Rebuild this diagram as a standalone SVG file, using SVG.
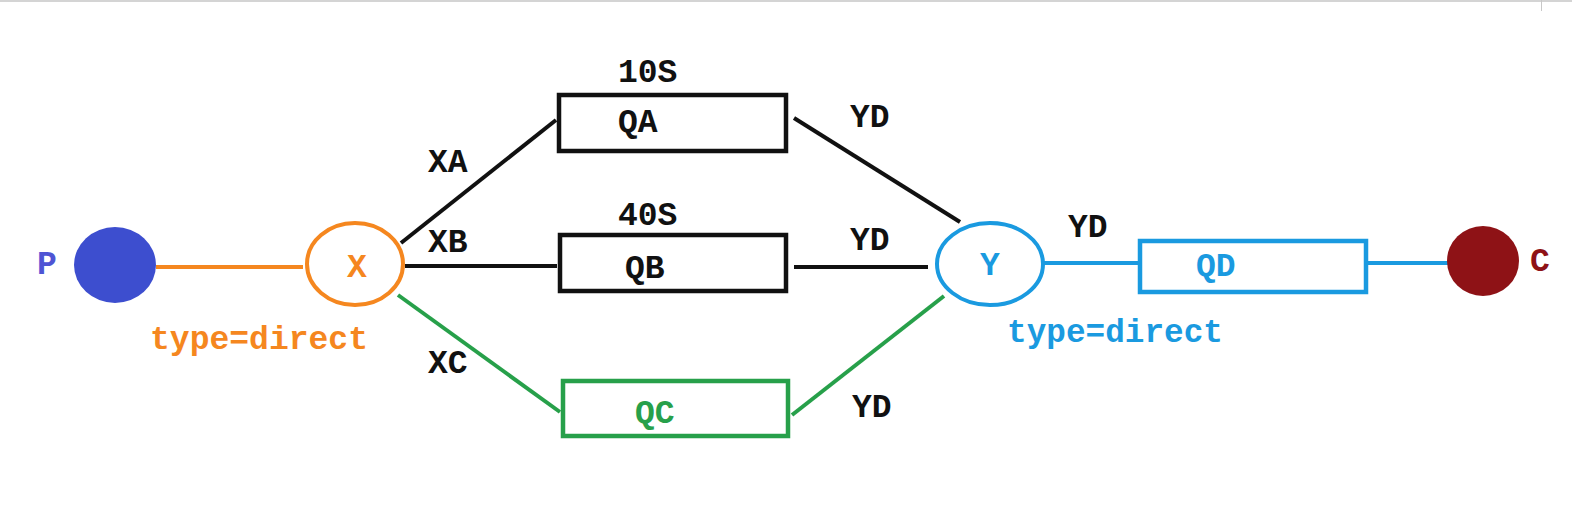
<svg xmlns="http://www.w3.org/2000/svg" width="1572" height="506" viewBox="0 0 1572 506">
<style>
text{font-family:"Liberation Mono","Courier New",monospace;font-weight:bold;font-size:33px}
.k{fill:#111}
.o{fill:#f5871f}
.b{fill:#1a9ae0}
.g{fill:#27a04a}
.ln{fill:none;stroke-width:4}
.box{fill:#fff;stroke-width:4.5}
</style>
<rect x="0" y="0" width="1572" height="2" fill="#d4d4d4"/>
<line x1="1541.5" y1="0" x2="1541.5" y2="11" stroke="#c8c8c8" stroke-width="1"/>
<g id="connectors">
<line class="ln" x1="156" y1="267" x2="303" y2="267" stroke="#f5871f"/>
<line class="ln" x1="401" y1="243" x2="556" y2="120" stroke="#111"/>
<line class="ln" x1="405" y1="266" x2="557" y2="266" stroke="#111"/>
<line class="ln" x1="398" y1="295" x2="560" y2="412" stroke="#27a04a"/>
<line class="ln" x1="794" y1="118" x2="960" y2="222" stroke="#111"/>
<line class="ln" x1="794" y1="267" x2="928" y2="267" stroke="#111"/>
<line class="ln" x1="792" y1="415" x2="944" y2="296" stroke="#27a04a"/>
<line class="ln" x1="1043" y1="263" x2="1140" y2="263" stroke="#1a9ae0"/>
<line class="ln" x1="1368" y1="263" x2="1449" y2="263" stroke="#1a9ae0"/>
<text class="k" x="428" y="172">XA</text>
<text class="k" x="428" y="252">XB</text>
<text class="k" x="428" y="373">XC</text>
<text class="k" x="850" y="127">YD</text>
<text class="k" x="850" y="250">YD</text>
<text class="k" x="852" y="417">YD</text>
<text class="k" x="1068" y="237">YD</text>
</g>
<g id="P">
<ellipse cx="115" cy="265" rx="41" ry="38" fill="#3d4ecf"/>
<text x="37" y="274" fill="#4e54d4" font-size="30">P</text>
</g>
<g id="X">
<ellipse cx="355" cy="264" rx="48" ry="41" fill="#fff" stroke="#f5871f" stroke-width="4"/>
<text class="o" x="357" y="277" text-anchor="middle" font-size="30">X</text>
<text class="o" x="150" y="349" textLength="218" lengthAdjust="spacingAndGlyphs">type=direct</text>
</g>
<g id="QA">
<text class="k" x="618" y="82">10S</text>
<rect class="box" x="559" y="95" width="227" height="56" stroke="#111"/>
<text class="k" x="618" y="132">QA</text>
</g>
<g id="QB">
<text class="k" x="618" y="225">40S</text>
<rect class="box" x="560" y="235" width="226" height="56" stroke="#111"/>
<text class="k" x="625" y="278">QB</text>
</g>
<g id="QC">
<rect class="box" x="563" y="381" width="225" height="55" stroke="#27a04a"/>
<text class="g" x="635" y="423" font-weight="normal">QC</text>
</g>
<g id="Y">
<ellipse cx="990" cy="264" rx="53" ry="41" fill="#fff" stroke="#1a9ae0" stroke-width="4"/>
<text class="b" x="990" y="275" text-anchor="middle" font-size="30">Y</text>
<text class="b" x="1007" y="342" textLength="216" lengthAdjust="spacingAndGlyphs">type=direct</text>
</g>
<g id="QD">
<rect class="box" x="1140" y="241" width="226" height="51" stroke="#1a9ae0"/>
<text class="b" x="1196" y="276" font-weight="normal">QD</text>
</g>
<g id="C">
<ellipse cx="1483" cy="261" rx="36" ry="35" fill="#8e1216"/>
<text x="1530" y="271" fill="#8e1216" font-size="30">C</text>
</g>
</svg>
